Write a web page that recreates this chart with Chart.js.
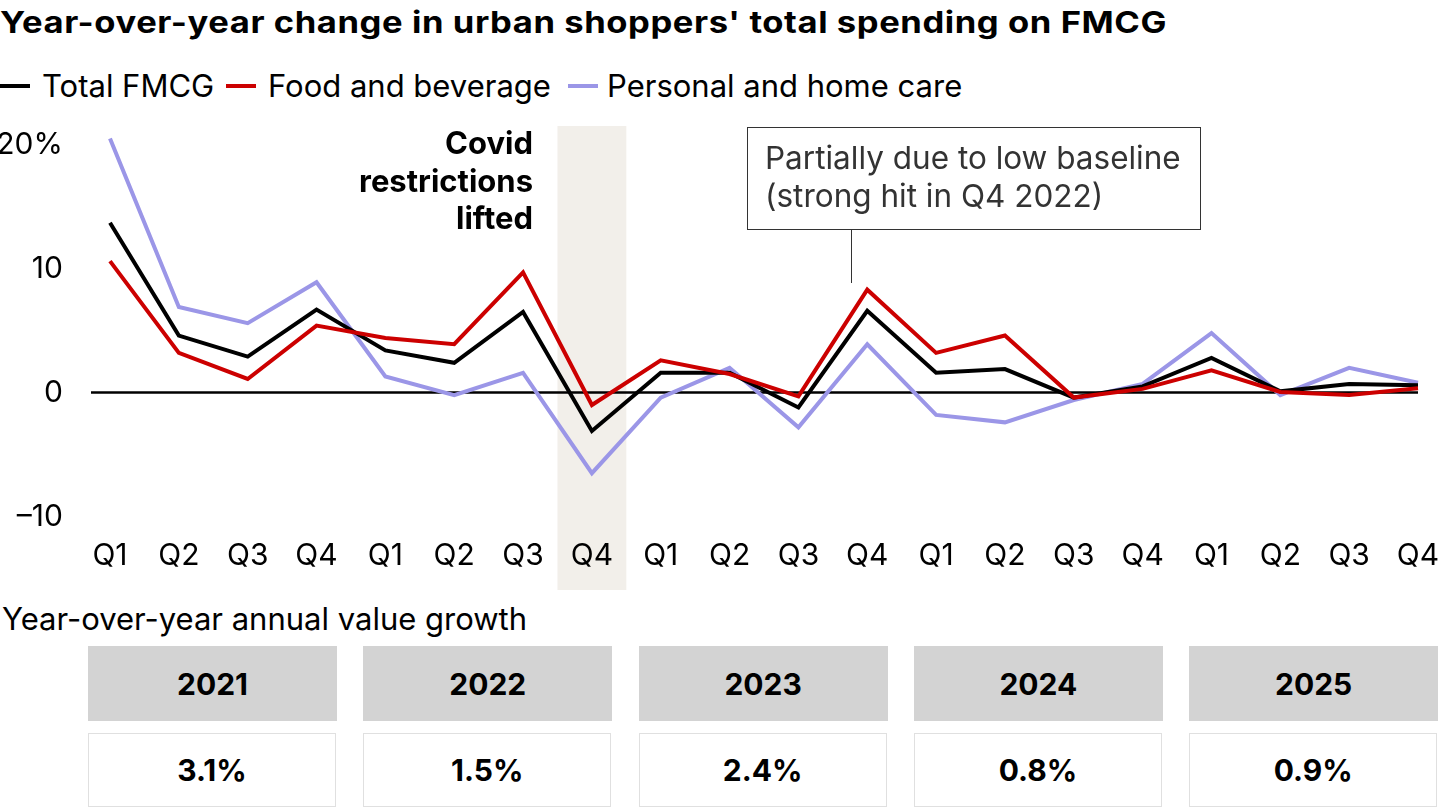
<!DOCTYPE html>
<html><head><meta charset="utf-8">
<script src="https://cdn.jsdelivr.net/npm/chart.js@4.4.1/dist/chart.umd.min.js"></script>
<style>
html,body{margin:0;padding:0;background:#fff;width:1440px;height:810px;overflow:hidden;font-family:Inter,sans-serif;color:#000}
.abs{position:absolute}
#title{left:0;top:4px;font-weight:700;font-size:30px;line-height:36px;white-space:nowrap;transform-origin:0 50%;letter-spacing:0.5px}
.leg{top:68px;font-size:31px;line-height:36px;white-space:nowrap}
.mk{height:4px;width:30px;top:84px}
#covid{right:907px;top:124px;font-weight:700;font-size:31px;line-height:37.5px;text-align:right}
#note{left:747px;top:127px;width:452px;height:101px;border:1.5px solid #333;color:#333;font-size:31.5px;line-height:38px;box-sizing:content-box}
#note div{padding:11px 0 0 17px;white-space:nowrap}
#conn{left:850.5px;top:229px;width:1.5px;height:54px;background:#333}
#sub{left:2px;top:601px;font-size:31px;line-height:36px;white-space:nowrap}
.hd{top:646px;height:75px;width:249px;background:#d3d3d3;font-weight:700;font-size:30px;display:flex;align-items:center;justify-content:center}
.vl{top:733px;height:72px;width:246px;border:1.5px solid #e0e0e0;background:#fff;font-weight:700;font-size:30px;display:flex;align-items:center;justify-content:center}
#wrap{left:0;top:110px;width:1440px;height:480px}
</style></head>
<body>
<div id="title" class="abs">Year-over-year change in urban shoppers' total spending on FMCG</div>
<div id="legend"></div>
<div id="wrap" class="abs"><canvas id="c" width="1440" height="480"></canvas></div>
<div id="covid" class="abs">Covid<br>restrictions<br>lifted</div>
<div id="note" class="abs"><div>Partially due to low baseline<br>(strong hit in Q4 2022)</div></div>
<div id="conn" class="abs"></div>
<div id="sub" class="abs">Year-over-year annual value growth</div>
<div id="table"></div>
<script>
// ---- data ----
const quarters = ['Q1','Q2','Q3','Q4','Q1','Q2','Q3','Q4','Q1','Q2','Q3','Q4','Q1','Q2','Q3','Q4','Q1','Q2','Q3','Q4'];
const totalFMCG = [13.7, 4.6, 2.9, 6.7, 3.4, 2.4, 6.5, -3.1, 1.6, 1.6, -1.2, 6.6, 1.6, 1.9, -0.4, 0.5, 2.8, 0.1, 0.7, 0.6];
const foodBeverage = [10.6, 3.2, 1.1, 5.4, 4.4, 3.9, 9.7, -1.0, 2.6, 1.5, -0.3, 8.3, 3.2, 4.6, -0.4, 0.3, 1.8, 0.05, -0.2, 0.35];
const personalHome = [20.5, 6.9, 5.6, 8.9, 1.3, -0.2, 1.6, -6.5, -0.4, 2.0, -2.8, 3.9, -1.8, -2.4, -0.6, 0.7, 4.8, -0.2, 2.0, 0.8];
const seriesNames = ['Total FMCG','Food and beverage','Personal and home care'];
const seriesColors = ['#000000','#cc0000','#9b96e7'];
const yTicks = [-10, 0, 10, 20];
const years = ['2021','2022','2023','2024','2025'];
const annualGrowth = ['3.1%','1.5%','2.4%','0.8%','0.9%'];
const highlightIndex = 7;

// ---- title fit ----
const t = document.getElementById('title');
const tw = t.getBoundingClientRect().width;
t.style.transform = 'scaleX(' + (1167 / tw) + ')';

// ---- legend ----
const legend = document.getElementById('legend');
const legPos = [[0,42],[226,268],[568,607]];
seriesNames.forEach((n,i)=>{
  const m=document.createElement('div');m.className='abs mk';m.style.left=legPos[i][0]+'px';m.style.background=seriesColors[i];legend.appendChild(m);
  const s=document.createElement('div');s.className='abs leg';s.style.left=legPos[i][1]+'px';s.textContent=n;legend.appendChild(s);
});

// ---- table ----
const table=document.getElementById('table');
years.forEach((y,i)=>{
  const x=88+i*275.3;
  const h=document.createElement('div');h.className='abs hd';h.style.left=x+'px';h.textContent=y;table.appendChild(h);
  const v=document.createElement('div');v.className='abs vl';v.style.left=x+'px';v.textContent=annualGrowth[i];table.appendChild(v);
});

// ---- chart ----
const bandPlugin={
  id:'band',
  beforeDraw(chart){
    const {ctx,chartArea,scales:{x}}=chart;
    const step=x.getPixelForValue(1)-x.getPixelForValue(0);
    const cx=x.getPixelForValue(highlightIndex);
    ctx.save();
    ctx.fillStyle='#f2efea';
    ctx.fillRect(cx-step/2,chartArea.top,step,chart.height-chartArea.top);
    ctx.restore();
  },
  beforeDatasetsDraw(chart){
    const {ctx,chartArea,scales:{y}}=chart;
    const y0=y.getPixelForValue(0);
    ctx.save();
    ctx.strokeStyle='#000';ctx.lineWidth=2.5;
    ctx.beginPath();ctx.moveTo(chartArea.left-19,y0);ctx.lineTo(chartArea.right,y0);ctx.stroke();
    ctx.restore();
  }
};
Chart.defaults.font.family='Inter';
new Chart(document.getElementById('c'),{
  type:'line',
  data:{labels:quarters,datasets:[
    {label:seriesNames[2],data:personalHome,borderColor:seriesColors[2],order:3},
    {label:seriesNames[0],data:totalFMCG,borderColor:seriesColors[0],order:2},
    {label:seriesNames[1],data:foodBeverage,borderColor:seriesColors[1],order:1}
  ].map(d=>Object.assign(d,{borderWidth:4,pointRadius:0,tension:0,fill:false,borderJoinStyle:'miter',borderCapStyle:'butt'}))},
  options:{
    responsive:false,animation:false,devicePixelRatio:1,
    layout:{padding:{top:16,right:22,left:0,bottom:0}},
    plugins:{legend:{display:false},tooltip:{enabled:false}},
    scales:{
      x:{offset:false,grid:{display:false,drawTicks:false},border:{display:false},
        ticks:{color:'#000',font:{size:30},padding:9,maxRotation:0,autoSkip:false},
        afterFit(s){s.height=61;s.paddingLeft=0;s.paddingRight=0;}},
      y:{min:-11,max:21.5,grid:{display:false,drawTicks:false},border:{display:false},
        afterBuildTicks(s){s.ticks=yTicks.map(v=>({value:v}));},
        afterFit(s){s.width=110;s.paddingTop=0;s.paddingBottom=0;},
        ticks:{color:'#000',font:{size:30},padding:47,
          callback:v=>v===20?'20%':(v<0?'\u2013'+Math.abs(v):String(v))}}
    }
  },
  plugins:[bandPlugin]
});
</script>
</body></html>
